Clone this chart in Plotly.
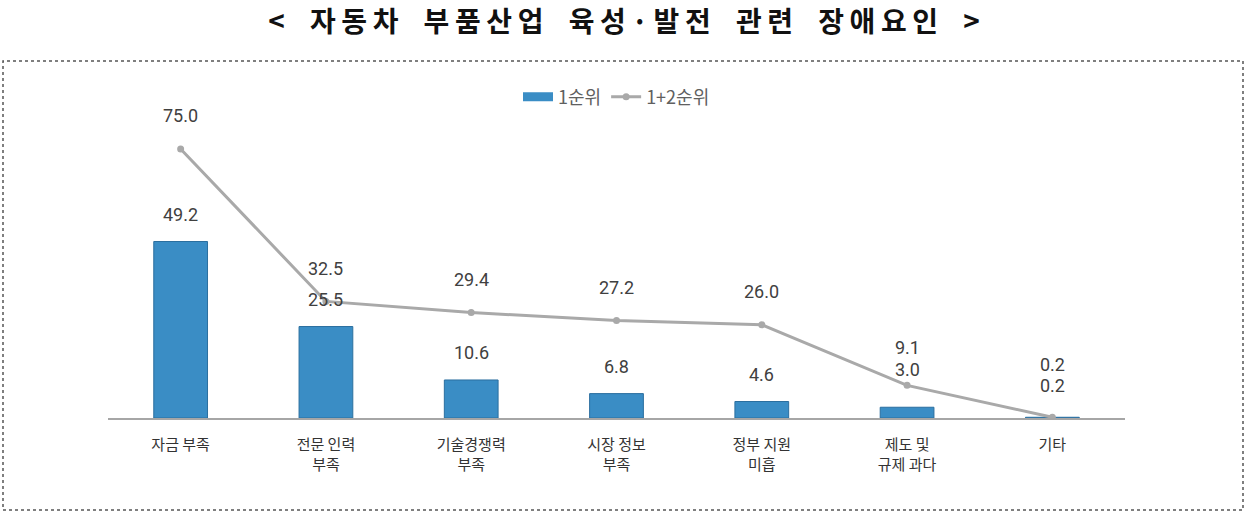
import plotly.graph_objects as go

# 데이터
categories = ["자금 부족", "전문 인력<br>부족", "기술경쟁력<br>부족", "시장 정보<br>부족",
              "정부 지원<br>미흡", "제도 및<br>규제 과다", "기타"]
rank1 = [49.2, 25.5, 10.6, 6.8, 4.6, 3.0, 0.2]
rank12 = [75.0, 32.5, 29.4, 27.2, 26.0, 9.1, 0.2]

title_text = "< 자동차 부품산업 육성·발전 관련 장애요인 >"

# 제목은 자간이 넓으므로 글자 사이에 공백 문자를 넣음
spaced_title = "\u2009".join(c if c != " " else "\u2002" for c in title_text)

fig = go.Figure()

fig.add_trace(go.Bar(
    x=categories, y=rank1, name="1순위", showlegend=False,
    marker=dict(color="#3a8dc5", line=dict(color="#2b6f9f", width=1)),
    width=0.37,
))

# 범례용 (막대 범례를 길쭉한 모양으로)
fig.add_trace(go.Scatter(
    x=[None], y=[None], name="1순위", mode="lines",
    line=dict(color="#3a8dc5", width=9),
))

fig.add_trace(go.Scatter(
    x=categories, y=rank12, name="1+2순위",
    mode="lines+markers",
    line=dict(color="#a9a9a9", width=3),
    marker=dict(color="#a9a9a9", size=7, symbol="circle"),
))

# 값 라벨 (막대 / 꺾은선)
label_font = dict(family="Roboto, Noto Sans CJK KR", size=18, color="#404040")
for i, cat in enumerate(categories):
    line_shift = 33
    bar_shift = 27
    if i == len(categories) - 2:   # 제도 및 규제 과다: 라벨이 겹치므로 위로
        line_shift = 38
        bar_shift = 38
    if i == len(categories) - 1:   # 기타
        line_shift = 53
        bar_shift = 32
    fig.add_annotation(x=cat, y=rank12[i], text=f"{rank12[i]:.1f}", showarrow=False,
                       yshift=line_shift, font=label_font, borderpad=0)
    fig.add_annotation(x=cat, y=rank1[i], text=f"{rank1[i]:.1f}", showarrow=False,
                       yshift=bar_shift, font=label_font, borderpad=0)

# 점선 테두리
fig.add_shape(type="rect", xref="paper", yref="paper",
              x0=(3 - 108) / 1017, x1=(1243 - 108) / 1017,
              y0=(418 - 510) / 287, y1=(418 - 61) / 287,
              line=dict(color="#555555", width=1.5, dash="dot"))

fig.update_layout(
    width=1248, height=515,
    margin=dict(l=108, r=123, t=131, b=97),
    paper_bgcolor="white", plot_bgcolor="white",
    title=dict(text=spaced_title, x=0.5, xanchor="center", y=1 - 22 / 515, yanchor="middle",
               font=dict(family="Noto Sans CJK KR", size=28, color="#111111", weight="bold")),
    legend=dict(orientation="h", x=0.5, xanchor="center", y=1 + 34 / 287, yanchor="middle",
                font=dict(family="Noto Sans CJK KR", size=18, color="#606060"),
                itemwidth=30, tracegroupgap=0),
    showlegend=True,
    xaxis=dict(range=[-0.5, 6.5], showline=True, linecolor="#a6a6a6", linewidth=2,
               ticks="", showgrid=False, ticklabelstandoff=12,
               tickfont=dict(family="Noto Sans CJK KR", size=15, color="#333333")),
    yaxis=dict(range=[0, 80], visible=False, showgrid=False),
    bargap=0.6,
)

# 페이지 기본 여백 제거, 모드바 숨김
fig.write_html("out.html", config={"displayModeBar": False},
               post_script="document.body.style.margin='0';")
